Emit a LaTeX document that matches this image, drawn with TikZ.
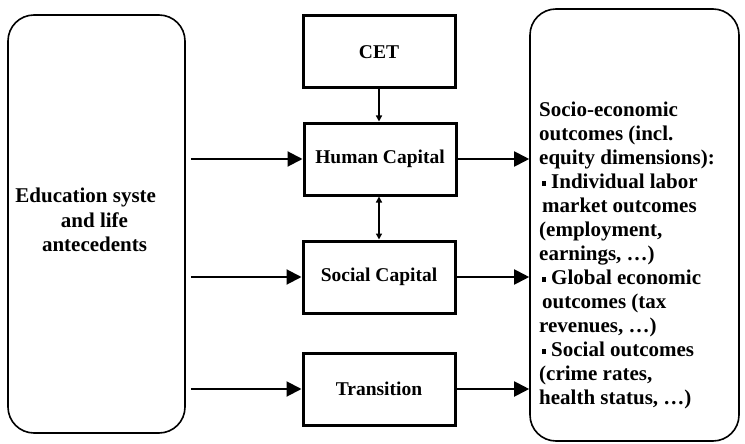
\documentclass[tikz,border=0pt]{standalone}
\usepackage{fontspec}
\setmainfont{Liberation Serif}
\usetikzlibrary{arrows.meta}

\begin{document}
\begin{tikzpicture}[x=1pt,y=-1pt,
  every node/.style={font=\fontsize{19.5}{24}\selectfont\bfseries},
  sidetext/.style={font=\fontsize{21}{24.5}\selectfont\bfseries},
  roundbox/.style={draw,line width=1.6pt,rounded corners=26pt},
  stagebox/.style={draw,line width=3pt,minimum width=152pt,minimum height=72pt},
  flow/.style={line width=2pt,-{Triangle[length=15pt,width=15pt]}},
  link/.style={line width=1.4pt,-{Triangle[length=6pt,width=6pt]}},
  twolink/.style={line width=1.4pt,{Triangle[length=6pt,width=6pt]}-{Triangle[length=6pt,width=6pt]}}]
\useasboundingbox (0,0) rectangle (745,444);
% left block
\node (edu) at (96.5,224) [roundbox,minimum width=177pt,minimum height=418pt]{};
\node (edutxt) at (edu) [sidetext,yshift=4pt,xshift=-2pt,align=center]
  {Education syste\phantom{m}\\and life\\antecedents};
% middle column
\node (cet) at (379,52) [stagebox]{CET};
\node (human) at (380,159) [stagebox]{Human Capital};
\node (social) at (379,277) [stagebox]{Social Capital};
\node (trans) at (379,389) [stagebox]{Transition};
% right block
\node (outcomes) at (634.5,225) [roundbox,minimum width=209pt,minimum height=432pt]{};
\node (outtxt) at (539,102) [sidetext,font=\fontsize{21}{24}\selectfont\bfseries,
  anchor=north west,align=left,inner sep=0pt]
  {Socio-economic\\outcomes (incl.\\equity dimensions):\\
   \makebox[12pt][l]{\hspace*{3pt}\rule[3pt]{4pt}{5pt}}Individual labor\\
   \hspace*{3pt}market outcomes\\
   (employment,\\
   earnings, \dots)\\
   \makebox[12pt][l]{\hspace*{3pt}\rule[3pt]{4pt}{5pt}}Global economic\\
   \hspace*{3pt}outcomes (tax\\
   revenues, \dots)\\
   \makebox[12pt][l]{\hspace*{3pt}\rule[3pt]{4pt}{5pt}}Social outcomes\\
   (crime rates,\\
   health status, \dots)};
% arrows in
\draw [flow,shorten <=5pt] (edu.east |- human.west) -- (human.west);
\draw [flow,shorten <=5pt] (edu.east |- social.west) -- (social.west);
\draw [flow,shorten <=5pt] (edu.east |- trans.west) -- (trans.west);
% arrows out
\draw [flow] (human.east) -- (outcomes.west |- human.east);
\draw [flow] (social.east) -- (outcomes.west |- social.east);
\draw [flow] (trans.east) -- (outcomes.west |- trans.east);
% links between the stages
\draw [link] (cet) -- (cet |- human.north);
\draw [twolink] (human.south -| social) -- (social);
\end{tikzpicture}
\end{document}
